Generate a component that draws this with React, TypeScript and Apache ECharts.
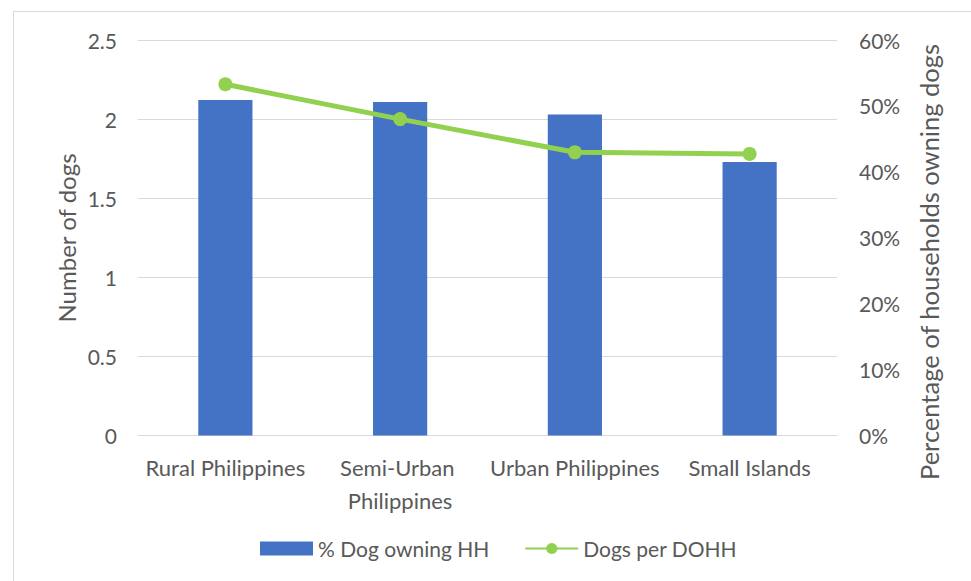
import React, { useEffect, useRef } from "react";
import * as echarts from "echarts";

const categories = ["Rural Philippines", "Semi-Urban Philippines", "Urban Philippines", "Small Islands"];
const pctDogOwningHH = [50.9, 50.6, 48.7, 41.5];
const dogsPerDOHH = [2.22, 2.0, 1.79, 1.78];
const leftTicks = { min: 0, max: 2.5, interval: 0.5 };
const rightTicks = { min: 0, max: 60, interval: 10 };

const FONT = "Lato";
const TXT = "#595959";

export default function App() {
  const ref = useRef<HTMLDivElement>(null);
  useEffect(() => {
    if (!ref.current) return;
    const chart = echarts.init(ref.current, undefined, { renderer: "svg" });
    chart.setOption({
      animation: false,
      backgroundColor: "#ffffff",
      textStyle: { fontFamily: FONT, color: TXT },
      grid: { left: 138, right: 134, top: 40, bottom: 145.5 },
      graphic: [
        {
          type: "rect",
          shape: { x: 13.5, y: 11.5, width: 1000, height: 1000 },
          style: { fill: "none", stroke: "#d9d9d9", lineWidth: 1 },
          silent: true,
        },
        {
          type: "text",
          x: 66,
          y: 238,
          rotation: Math.PI / 2,
          style: { text: "Number of dogs", fontFamily: FONT, fontSize: 24, fill: TXT, align: "center", verticalAlign: "middle" },
        },
        {
          type: "text",
          x: 929,
          y: 262,
          rotation: Math.PI / 2,
          style: { text: "Percentage of households owning dogs", fontFamily: FONT, fontSize: 25.5, fill: TXT, align: "center", verticalAlign: "middle" },
        },
      ],
      legend: {
        left: 260,
        top: 538,
        padding: 0,
        itemWidth: 53,
        itemHeight: 14,
        itemGap: 35,
        textStyle: { fontFamily: FONT, fontSize: 21, color: TXT },
        data: [
          { name: "% Dog owning HH", icon: "rect" },
          { name: "Dogs per DOHH" },
        ],
      },
      xAxis: {
        type: "category",
        data: categories,
        axisLine: { lineStyle: { color: "#d9d9d9", width: 1 } },
        axisTick: { show: false },
        axisLabel: {
          color: TXT,
          fontFamily: FONT,
          fontSize: 22,
          margin: 15,
          lineHeight: 33,
          width: 172,
          overflow: "break",
          interval: 0,
        },
      },
      yAxis: [
        {
          type: "value",
          min: leftTicks.min,
          max: leftTicks.max,
          interval: leftTicks.interval,
          axisLine: { show: false },
          axisTick: { show: false },
          splitLine: { lineStyle: { color: "#d9d9d9", width: 1 } },
          axisLabel: { color: TXT, fontFamily: FONT, fontSize: 21, margin: 21 },
        },
        {
          type: "value",
          min: rightTicks.min,
          max: rightTicks.max,
          interval: rightTicks.interval,
          axisLine: { show: false },
          axisTick: { show: false },
          splitLine: { show: false },
          axisLabel: { color: TXT, fontFamily: FONT, fontSize: 21, margin: 22, formatter: "{value}%" },
        },
      ],
      series: [
        {
          name: "% Dog owning HH",
          type: "bar",
          yAxisIndex: 1,
          data: pctDogOwningHH,
          barWidth: "31%",
          itemStyle: { color: "#4472C4" },
        },
        {
          name: "Dogs per DOHH",
          type: "line",
          yAxisIndex: 0,
          data: dogsPerDOHH,
          symbol: "circle",
          symbolSize: 14,
          lineStyle: { color: "#92D050", width: 5 },
          itemStyle: { color: "#92D050" },
        },
      ],
    });
    return () => chart.dispose();
  }, []);
  return <div ref={ref} style={{ position: "absolute", left: 0, top: 0, width: 971, height: 581 }} />;
}
